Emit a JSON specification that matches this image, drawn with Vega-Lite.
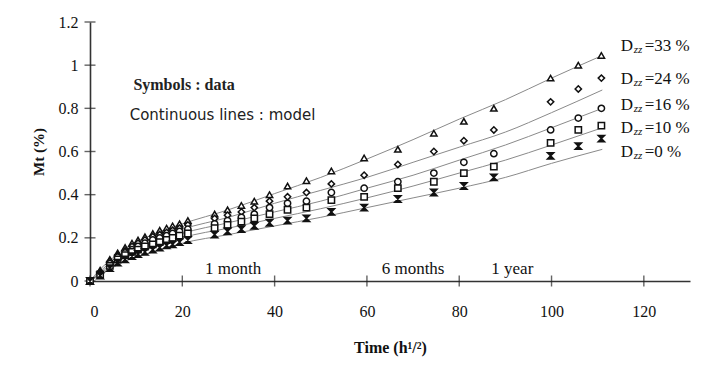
{
  "$schema": "https://vega.github.io/schema/vega-lite/v6.json",
  "width": 600,
  "height": 259,
  "autosize": "none",
  "padding": {"left": 90, "top": 22, "right": 22, "bottom": 90},
  "background": "white",
  "config": {
    "view": {"stroke": null},
    "font": "Liberation Serif",
    "axis": {"grid": false, "ticks": false, "domainColor": "#333", "labelColor": "#111", "titleColor": "#111", "labelFont": "Liberation Serif", "titleFont": "Liberation Serif", "labelFontSize": 16, "titleFontSize": 15, "titleFontWeight": "bold", "domainWidth": 1.6}
  },
  "datasets": {
    "pts": [
      {"t":0,"mt":0,"s":"33"},{"t":2.2,"mt":0.05,"s":"33"},{"t":4.3,"mt":0.1,"s":"33"},{"t":6,"mt":0.13,"s":"33"},{"t":7.6,"mt":0.155,"s":"33"},{"t":9.1,"mt":0.175,"s":"33"},{"t":10.4,"mt":0.19,"s":"33"},{"t":11.9,"mt":0.205,"s":"33"},{"t":13.6,"mt":0.22,"s":"33"},{"t":15.1,"mt":0.235,"s":"33"},{"t":16.6,"mt":0.245,"s":"33"},{"t":17.9,"mt":0.255,"s":"33"},{"t":19.4,"mt":0.265,"s":"33"},{"t":21.2,"mt":0.28,"s":"33"},{"t":27,"mt":0.31,"s":"33"},{"t":29.8,"mt":0.33,"s":"33"},{"t":32.8,"mt":0.35,"s":"33"},{"t":35.6,"mt":0.37,"s":"33"},{"t":38.9,"mt":0.4,"s":"33"},{"t":42.8,"mt":0.44,"s":"33"},{"t":46.9,"mt":0.465,"s":"33"},{"t":52.3,"mt":0.51,"s":"33"},{"t":59.4,"mt":0.57,"s":"33"},{"t":66.7,"mt":0.61,"s":"33"},{"t":74.5,"mt":0.685,"s":"33"},{"t":81,"mt":0.74,"s":"33"},{"t":87.5,"mt":0.8,"s":"33"},{"t":99.8,"mt":0.94,"s":"33"},{"t":105.8,"mt":1.0,"s":"33"},{"t":110.8,"mt":1.045,"s":"33"},
      {"t":0,"mt":0,"s":"24"},{"t":2.2,"mt":0.04,"s":"24"},{"t":4.3,"mt":0.09,"s":"24"},{"t":6,"mt":0.12,"s":"24"},{"t":7.6,"mt":0.14,"s":"24"},{"t":9.1,"mt":0.16,"s":"24"},{"t":10.4,"mt":0.175,"s":"24"},{"t":11.9,"mt":0.19,"s":"24"},{"t":13.6,"mt":0.205,"s":"24"},{"t":15.1,"mt":0.215,"s":"24"},{"t":16.6,"mt":0.225,"s":"24"},{"t":17.9,"mt":0.235,"s":"24"},{"t":19.4,"mt":0.245,"s":"24"},{"t":21.2,"mt":0.26,"s":"24"},{"t":27,"mt":0.29,"s":"24"},{"t":29.8,"mt":0.305,"s":"24"},{"t":32.8,"mt":0.32,"s":"24"},{"t":35.6,"mt":0.34,"s":"24"},{"t":38.9,"mt":0.37,"s":"24"},{"t":42.8,"mt":0.39,"s":"24"},{"t":46.9,"mt":0.41,"s":"24"},{"t":52.3,"mt":0.45,"s":"24"},{"t":59.4,"mt":0.49,"s":"24"},{"t":66.7,"mt":0.54,"s":"24"},{"t":74.5,"mt":0.6,"s":"24"},{"t":81,"mt":0.65,"s":"24"},{"t":87.5,"mt":0.7,"s":"24"},{"t":99.8,"mt":0.83,"s":"24"},{"t":105.8,"mt":0.89,"s":"24"},{"t":110.8,"mt":0.94,"s":"24"},
      {"t":0,"mt":0,"s":"16"},{"t":2.2,"mt":0.035,"s":"16"},{"t":4.3,"mt":0.08,"s":"16"},{"t":6,"mt":0.11,"s":"16"},{"t":7.6,"mt":0.13,"s":"16"},{"t":9.1,"mt":0.145,"s":"16"},{"t":10.4,"mt":0.16,"s":"16"},{"t":11.9,"mt":0.175,"s":"16"},{"t":13.6,"mt":0.19,"s":"16"},{"t":15.1,"mt":0.2,"s":"16"},{"t":16.6,"mt":0.21,"s":"16"},{"t":17.9,"mt":0.22,"s":"16"},{"t":19.4,"mt":0.23,"s":"16"},{"t":21.2,"mt":0.24,"s":"16"},{"t":27,"mt":0.265,"s":"16"},{"t":29.8,"mt":0.28,"s":"16"},{"t":32.8,"mt":0.295,"s":"16"},{"t":35.6,"mt":0.31,"s":"16"},{"t":38.9,"mt":0.34,"s":"16"},{"t":42.8,"mt":0.36,"s":"16"},{"t":46.9,"mt":0.37,"s":"16"},{"t":52.3,"mt":0.41,"s":"16"},{"t":59.4,"mt":0.43,"s":"16"},{"t":66.7,"mt":0.46,"s":"16"},{"t":74.5,"mt":0.5,"s":"16"},{"t":81,"mt":0.55,"s":"16"},{"t":87.5,"mt":0.59,"s":"16"},{"t":99.8,"mt":0.7,"s":"16"},{"t":105.8,"mt":0.755,"s":"16"},{"t":110.8,"mt":0.8,"s":"16"},
      {"t":0,"mt":0,"s":"10"},{"t":2.2,"mt":0.03,"s":"10"},{"t":4.3,"mt":0.07,"s":"10"},{"t":6,"mt":0.1,"s":"10"},{"t":7.6,"mt":0.12,"s":"10"},{"t":9.1,"mt":0.135,"s":"10"},{"t":10.4,"mt":0.145,"s":"10"},{"t":11.9,"mt":0.16,"s":"10"},{"t":13.6,"mt":0.17,"s":"10"},{"t":15.1,"mt":0.18,"s":"10"},{"t":16.6,"mt":0.19,"s":"10"},{"t":17.9,"mt":0.2,"s":"10"},{"t":19.4,"mt":0.21,"s":"10"},{"t":21.2,"mt":0.22,"s":"10"},{"t":27,"mt":0.245,"s":"10"},{"t":29.8,"mt":0.26,"s":"10"},{"t":32.8,"mt":0.275,"s":"10"},{"t":35.6,"mt":0.29,"s":"10"},{"t":38.9,"mt":0.31,"s":"10"},{"t":42.8,"mt":0.33,"s":"10"},{"t":46.9,"mt":0.34,"s":"10"},{"t":52.3,"mt":0.375,"s":"10"},{"t":59.4,"mt":0.39,"s":"10"},{"t":66.7,"mt":0.43,"s":"10"},{"t":74.5,"mt":0.46,"s":"10"},{"t":81,"mt":0.5,"s":"10"},{"t":87.5,"mt":0.53,"s":"10"},{"t":99.8,"mt":0.64,"s":"10"},{"t":105.8,"mt":0.7,"s":"10"},{"t":110.8,"mt":0.72,"s":"10"},
      {"t":0,"mt":0,"s":"0"},{"t":2.2,"mt":0.025,"s":"0"},{"t":4.3,"mt":0.06,"s":"0"},{"t":6,"mt":0.085,"s":"0"},{"t":7.6,"mt":0.1,"s":"0"},{"t":9.1,"mt":0.115,"s":"0"},{"t":10.4,"mt":0.125,"s":"0"},{"t":11.9,"mt":0.135,"s":"0"},{"t":13.6,"mt":0.145,"s":"0"},{"t":15.1,"mt":0.155,"s":"0"},{"t":16.6,"mt":0.165,"s":"0"},{"t":17.9,"mt":0.17,"s":"0"},{"t":19.4,"mt":0.18,"s":"0"},{"t":21.2,"mt":0.19,"s":"0"},{"t":27,"mt":0.215,"s":"0"},{"t":29.8,"mt":0.23,"s":"0"},{"t":32.8,"mt":0.24,"s":"0"},{"t":35.6,"mt":0.255,"s":"0"},{"t":38.9,"mt":0.27,"s":"0"},{"t":42.8,"mt":0.28,"s":"0"},{"t":46.9,"mt":0.29,"s":"0"},{"t":52.3,"mt":0.32,"s":"0"},{"t":59.4,"mt":0.34,"s":"0"},{"t":66.7,"mt":0.38,"s":"0"},{"t":74.5,"mt":0.41,"s":"0"},{"t":81,"mt":0.44,"s":"0"},{"t":87.5,"mt":0.48,"s":"0"},{"t":99.8,"mt":0.58,"s":"0"},{"t":105.8,"mt":0.625,"s":"0"},{"t":110.8,"mt":0.66,"s":"0"}
    ],
    "model": [
      {"t":0,"mt":0,"s":"33"},{"t":2,"mt":0.05,"s":"33"},{"t":4,"mt":0.09,"s":"33"},{"t":6,"mt":0.125,"s":"33"},{"t":8,"mt":0.155,"s":"33"},{"t":10,"mt":0.18,"s":"33"},{"t":13,"mt":0.21,"s":"33"},{"t":16,"mt":0.235,"s":"33"},{"t":20,"mt":0.265,"s":"33"},{"t":30,"mt":0.33,"s":"33"},{"t":40,"mt":0.405,"s":"33"},{"t":50,"mt":0.48,"s":"33"},{"t":60,"mt":0.565,"s":"33"},{"t":70,"mt":0.655,"s":"33"},{"t":80,"mt":0.75,"s":"33"},{"t":90,"mt":0.84,"s":"33"},{"t":100,"mt":0.94,"s":"33"},{"t":111,"mt":1.045,"s":"33"},
      {"t":0,"mt":0,"s":"24"},{"t":2,"mt":0.04,"s":"24"},{"t":4,"mt":0.08,"s":"24"},{"t":6,"mt":0.115,"s":"24"},{"t":8,"mt":0.14,"s":"24"},{"t":10,"mt":0.16,"s":"24"},{"t":13,"mt":0.19,"s":"24"},{"t":16,"mt":0.21,"s":"24"},{"t":20,"mt":0.24,"s":"24"},{"t":30,"mt":0.295,"s":"24"},{"t":40,"mt":0.36,"s":"24"},{"t":50,"mt":0.42,"s":"24"},{"t":60,"mt":0.48,"s":"24"},{"t":70,"mt":0.55,"s":"24"},{"t":80,"mt":0.62,"s":"24"},{"t":90,"mt":0.69,"s":"24"},{"t":100,"mt":0.78,"s":"24"},{"t":111,"mt":0.885,"s":"24"},
      {"t":0,"mt":0,"s":"16"},{"t":2,"mt":0.035,"s":"16"},{"t":4,"mt":0.07,"s":"16"},{"t":6,"mt":0.1,"s":"16"},{"t":8,"mt":0.125,"s":"16"},{"t":10,"mt":0.145,"s":"16"},{"t":13,"mt":0.17,"s":"16"},{"t":16,"mt":0.19,"s":"16"},{"t":20,"mt":0.22,"s":"16"},{"t":30,"mt":0.27,"s":"16"},{"t":40,"mt":0.32,"s":"16"},{"t":50,"mt":0.37,"s":"16"},{"t":60,"mt":0.43,"s":"16"},{"t":70,"mt":0.49,"s":"16"},{"t":80,"mt":0.56,"s":"16"},{"t":90,"mt":0.63,"s":"16"},{"t":100,"mt":0.71,"s":"16"},{"t":111,"mt":0.8,"s":"16"},
      {"t":0,"mt":0,"s":"10"},{"t":2,"mt":0.03,"s":"10"},{"t":4,"mt":0.06,"s":"10"},{"t":6,"mt":0.09,"s":"10"},{"t":8,"mt":0.11,"s":"10"},{"t":10,"mt":0.13,"s":"10"},{"t":13,"mt":0.15,"s":"10"},{"t":16,"mt":0.17,"s":"10"},{"t":20,"mt":0.2,"s":"10"},{"t":30,"mt":0.245,"s":"10"},{"t":40,"mt":0.29,"s":"10"},{"t":50,"mt":0.335,"s":"10"},{"t":60,"mt":0.385,"s":"10"},{"t":70,"mt":0.44,"s":"10"},{"t":80,"mt":0.5,"s":"10"},{"t":90,"mt":0.56,"s":"10"},{"t":100,"mt":0.63,"s":"10"},{"t":111,"mt":0.71,"s":"10"},
      {"t":0,"mt":0,"s":"0"},{"t":2,"mt":0.025,"s":"0"},{"t":4,"mt":0.05,"s":"0"},{"t":6,"mt":0.075,"s":"0"},{"t":8,"mt":0.095,"s":"0"},{"t":10,"mt":0.11,"s":"0"},{"t":13,"mt":0.13,"s":"0"},{"t":16,"mt":0.15,"s":"0"},{"t":20,"mt":0.175,"s":"0"},{"t":30,"mt":0.215,"s":"0"},{"t":40,"mt":0.255,"s":"0"},{"t":50,"mt":0.295,"s":"0"},{"t":60,"mt":0.34,"s":"0"},{"t":70,"mt":0.385,"s":"0"},{"t":80,"mt":0.43,"s":"0"},{"t":90,"mt":0.48,"s":"0"},{"t":100,"mt":0.545,"s":"0"},{"t":111,"mt":0.61,"s":"0"}
    ],
    "series": [
      {"t":115,"mt":1.09,"v":"=33 %"},
      {"t":115,"mt":0.935,"v":"=24 %"},
      {"t":115,"mt":0.815,"v":"=16 %"},
      {"t":115,"mt":0.71,"v":"=10 %"},
      {"t":115,"mt":0.6,"v":"=0 %"}
    ],
    "times": [
      {"t":31,"mt":0,"v":"1 month"},
      {"t":70,"mt":0,"v":"6 months"},
      {"t":91.5,"mt":0,"v":"1 year"}
    ],
    "xticks": [
      {"t":0,"mt":0},{"t":20,"mt":0},{"t":40,"mt":0},{"t":60,"mt":0},{"t":80,"mt":0},{"t":100,"mt":0},{"t":120,"mt":0}
    ],
    "yticks": [
      {"t":0,"mt":0},{"t":0,"mt":0.2},{"t":0,"mt":0.4},{"t":0,"mt":0.6},{"t":0,"mt":0.8},{"t":0,"mt":1},{"t":0,"mt":1.2}
    ],
    "note1": [{"t":9.4,"mt":0.91,"v":"Symbols : data"}],
    "note2": [{"t":8.6,"mt":0.77,"v":"Continuous lines : model"}]
  },
  "encoding": {
    "x": {"field": "t", "type": "quantitative", "scale": {"domain": [0, 130], "nice": false},
      "axis": {"values": [0,20,40,60,80,100,120], "title": "Time  (h¹/²)", "titlePadding": 20, "labelPadding": 22, "titleFontSize": 16}},
    "y": {"field": "mt", "type": "quantitative", "scale": {"domain": [0, 1.2], "nice": false},
      "axis": {"values": [0,0.2,0.4,0.6,0.8,1,1.2], "labelExpr": "datum.value == 0 ? '0' : format(datum.value, '~g')", "title": "Mt (%)", "titlePadding": 12, "labelPadding": 12}}
  },
  "layer": [
    {
      "data": {"name": "model"},
      "mark": {"type": "line", "color": "#8a8a8a", "strokeWidth": 1, "interpolate": "monotone"},
      "encoding": {"detail": {"field": "s"}}
    },
    {
      "data": {"name": "xticks"},
      "mark": {"type": "tick", "orient": "vertical", "color": "#222", "size": 11, "thickness": 1.4}
    },
    {
      "data": {"name": "yticks"},
      "mark": {"type": "tick", "orient": "horizontal", "color": "#222", "size": 11, "thickness": 1.4}
    },
    {
      "data": {"name": "pts"},
      "mark": {"type": "point", "filled": true, "stroke": "#111", "strokeWidth": 1.5, "size": 40, "opacity": 1},
      "encoding": {
        "shape": {"field": "s", "type": "nominal", "legend": null,
          "scale": {"domain": ["33","24","16","10","0"], "range": ["triangle-up","diamond","circle","square","M-1,-1L1,-1L-1,1L1,1Z"]}},
        "fill": {"field": "s", "type": "nominal", "legend": null,
          "scale": {"domain": ["33","24","16","10","0"], "range": ["white","white","white","white","#111"]}}
      }
    },
    {
      "data": {"name": "series"},
      "mark": {"type": "text", "align": "left", "baseline": "middle", "fontSize": 17, "font": "Liberation Serif", "color": "#111"},
      "encoding": {"text": {"value": "D"}}
    },
    {
      "data": {"name": "series"},
      "mark": {"type": "text", "align": "left", "baseline": "middle", "fontSize": 11, "font": "Liberation Serif", "fontStyle": "italic", "dx": 13, "dy": 4, "color": "#111"},
      "encoding": {"text": {"value": "zz"}}
    },
    {
      "data": {"name": "series"},
      "mark": {"type": "text", "align": "left", "baseline": "middle", "fontSize": 17, "font": "Liberation Serif", "dx": 24, "color": "#111"},
      "encoding": {"text": {"field": "v"}}
    },
    {
      "data": {"name": "times"},
      "mark": {"type": "text", "align": "center", "baseline": "bottom", "fontSize": 17, "font": "Liberation Serif", "dy": -3, "color": "#111"},
      "encoding": {"text": {"field": "v"}}
    },
    {
      "data": {"name": "note1"},
      "mark": {"type": "text", "align": "left", "baseline": "middle", "fontSize": 16, "font": "Liberation Serif", "fontWeight": "bold", "color": "#222"},
      "encoding": {"text": {"field": "v"}}
    },
    {
      "data": {"name": "note2"},
      "mark": {"type": "text", "align": "left", "baseline": "middle", "fontSize": 15, "font": "DejaVu Sans", "color": "#222"},
      "encoding": {"text": {"field": "v"}}
    }
  ]
}
